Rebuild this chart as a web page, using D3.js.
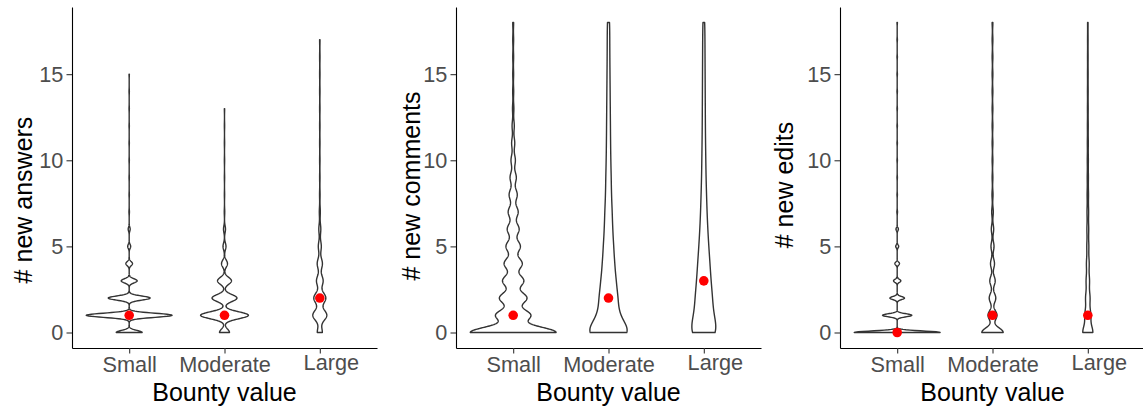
<!DOCTYPE html>
<html>
<head>
<meta charset="utf-8">
<script src="https://cdn.jsdelivr.net/npm/d3@7"></script>
<style>
  body { margin: 0; background: #fff; }
  svg { display: block; font-family: "Liberation Sans", Arial, sans-serif; }
</style>
</head>
<body>
<div id="container"></div>
<script>
/* DATA */
const categories = ["Small", "Moderate", "Large"];
const yTicks = [0, 5, 10, 15];
const yTitles = ["# new answers", "# new comments", "# new edits"];
const xTitle = "Bounty value";

// relative frequency of each count value (index = 0, 1, 2, ...)
const answersSmall = [15.6, 51.6, 25.2, 9.6, 4.0, 1.8, 1.2, 0.3, 0.2, 0.2, 0.2, 0.2, 0.2, 0.2, 0.2, 0.2];
const answersModerate = [10, 48, 25, 14, 6, 3, 2, 0.5, 0.3, 0.3, 0.3, 0.3, 0.3, 0.3];
const answersLarge = [7.5, 21, 18, 10, 7.8, 4.5, 3, 1.5, 0.8, 0.6, 0.6, 0.6, 0.6, 0.6, 0.6, 0.6, 0.6, 0.6];
const answersBw = [0.12, 0.2, 0.3];
const answersMedian = [1, 1, 2];

const commentsSmall = [138, 56, 44, 34, 29, 23, 19, 16, 13, 10, 7, 5, 3.5, 2.2, 1.6, 1.4, 1.4, 1.4, 1.4];
const commentsModerate = [100, 42, 39, 31, 25, 21, 17, 15, 12, 11, 9.3, 8.4, 7.8, 7.2, 6.6, 6, 5.4, 5.1, 4.8];
const commentsLarge = [65, 38, 36, 29, 25, 20, 16, 13, 11, 9, 8, 7, 6.3, 6, 5.6, 5.3, 4.9, 4.6, 4.2];
const commentsBw = [0.32, 0.6, 0.7];
const commentsMedian = [1, 2, 3];

const editsSmall = [38.7, 13.2, 6.6, 3.3, 2.1, 1.35, 1.1, 0.3, 0.2, 0.2, 0.2, 0.2, 0.2, 0.2, 0.2, 0.2, 0.2, 0.2, 0.2];
const editsModerate = [28.9, 12.2, 8.9, 7.3, 5.4, 4.1, 3.2, 2.2, 1.4, 1.0, 1.0, 1.0, 1.0, 1.0, 1.0, 1.0, 1.0, 1.0, 1.0];
const editsLarge = [19.6, 11.2, 8.4, 6.4, 5.2, 3.8, 3.4, 3.0, 2.6, 2.2, 2.0, 1.8, 1.6, 1.4, 1.3, 1.2, 1.1, 1.0, 0.9];
const editsBw = [0.09, 0.27, 0.4];
const editsMedian = [0, 1, 1];

const panels = [
  { freqs: [answersSmall, answersModerate, answersLarge], bw: answersBw, median: answersMedian,
    title: yTitles[0], left: 72, titleX: 31.5, titleY: 200 },
  { freqs: [commentsSmall, commentsModerate, commentsLarge], bw: commentsBw, median: commentsMedian,
    title: yTitles[1], left: 456, titleX: 420, titleY: 186 },
  { freqs: [editsSmall, editsModerate, editsLarge], bw: editsBw, median: editsMedian,
    title: yTitles[2], left: 840, titleX: 793, titleY: 185 }
];

/* CONSTANTS */
const width = 1143, height = 406;
const panelW = 305, plotTop = 7, plotBottom = 348;

const svg = d3.select("#container").append("svg")
  .attr("width", width)
  .attr("height", height);

// y scale shared by all panels (0..18 with ggplot expansion)
const yScale = d3.scaleLinear().domain([-0.9, 18.9]).range([plotBottom, plotTop]);

// gaussian kernel density on a grid from 0 to max value (trimmed)
function kde(freq, bw) {
  const grid = d3.range(0, (freq.length - 1) * 50 + 1).map(i => i / 50);
  return grid.map(y => [y, d3.sum(freq, (f, k) => f * Math.exp(-0.5 * ((y - k) / bw) ** 2)) / bw]);
}

panels.forEach(p => {
  const xScale = d3.scalePoint()
    .domain(categories)
    .range([p.left, p.left + panelW])
    .padding(0.6);

  const dens = p.freqs.map((f, i) => kde(f, p.bw[i]));
  const maxD = d3.max(dens, d => d3.max(d, v => v[1]));
  const wScale = d3.scaleLinear().domain([0, maxD]).range([0, xScale.step() * 0.45]);

  const g = svg.append("g");

  // violins
  g.selectAll(".violin")
    .data(dens)
    .join("path")
    .attr("class", "violin")
    .attr("fill", "white")
    .attr("stroke", "#333333")
    .attr("stroke-width", 1.4)
    .attr("stroke-linejoin", "round")
    .attr("d", (d, i) => {
      const cx = xScale(categories[i]);
      return d3.area()
        .x0(v => cx - wScale(v[1]))
        .x1(v => cx + wScale(v[1]))
        .y(v => yScale(v[0]))(d);
    });

  // medians
  g.selectAll(".med")
    .data(p.median)
    .join("circle")
    .attr("class", "med")
    .attr("cx", (d, i) => xScale(categories[i]))
    .attr("cy", d => yScale(d))
    .attr("r", 4.8)
    .attr("fill", "#FF0000");

  // y axis
  const yAxis = g.append("g")
    .attr("transform", `translate(${p.left},0)`)
    .call(d3.axisLeft(yScale).tickValues(yTicks).tickSize(5.5).tickSizeOuter(0).tickPadding(3.2));

  // x axis
  const xAxis = g.append("g")
    .attr("transform", `translate(0,${plotBottom})`)
    .call(d3.axisBottom(xScale).tickSize(5.5).tickSizeOuter(0).tickPadding(3.5));

  [yAxis, xAxis].forEach(a => {
    a.select(".domain").attr("stroke", "black").attr("stroke-width", 1.1);
    a.selectAll(".tick line").attr("stroke", "#333333").attr("stroke-width", 1.1);
    a.selectAll(".tick text")
      .attr("fill", "#4D4D4D")
      .attr("font-size", "21.7px")
      .attr("font-family", "Liberation Sans, Arial, sans-serif");
  });

  // the "Large" label sits a bit right and up in the original
  xAxis.selectAll(".tick text")
    .filter(d => d === "Large")
    .attr("x", 11)
    .attr("y", 6.5);

  // axis titles
  svg.append("text")
    .attr("x", p.left + panelW / 2)
    .attr("y", 400.5)
    .attr("text-anchor", "middle")
    .attr("font-size", "25px")
    .attr("fill", "black")
    .text(xTitle);

  svg.append("text")
    .attr("transform", `translate(${p.titleX},${p.titleY}) rotate(-90)`)
    .attr("text-anchor", "middle")
    .attr("font-size", "25px")
    .attr("fill", "black")
    .text(p.title);
});
</script>
</body>
</html>
